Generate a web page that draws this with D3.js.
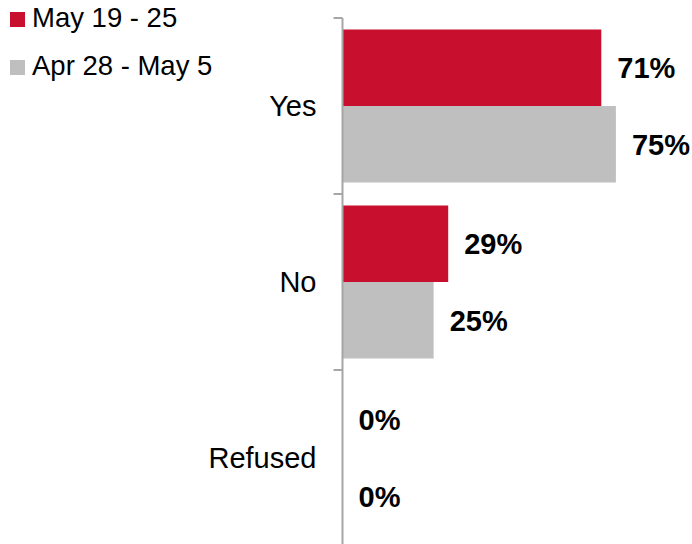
<!DOCTYPE html>
<html><head><meta charset="utf-8">
<script src="https://cdn.jsdelivr.net/npm/d3@7"></script>
<style>body{margin:0;background:#fff}svg{display:block}</style>
</head><body>
<script>
const categories = ["Yes", "No", "Refused"];
const seriesNames = ["May 19 - 25", "Apr 28 - May 5"];
const seriesMay19 = [71, 29, 0];
const seriesApr28 = [75, 25, 0];
const colors = ["#C8102E", "#BFBFBF"];

const W = 692, H = 544;
const svg = d3.select("body").append("svg").attr("width", W).attr("height", H)
  .style("font-family", "'Liberation Sans', Arial, sans-serif");

const x0 = 342.5;
const x = d3.scaleLinear().domain([0, 100]).range([x0, x0 + 364.5]);
const y = d3.scaleBand().domain(categories).range([18, 546]).paddingInner(0).paddingOuter(0);
const inner = d3.scaleBand().domain([0, 1]).range([11.5, y.bandwidth() - 11.5]);

const series = [seriesMay19, seriesApr28];
categories.forEach((c, i) => {
  series.forEach((s, j) => {
    const yy = y(c) + inner(j);
    svg.append("rect").attr("x", x(0)).attr("y", yy)
      .attr("width", x(s[i]) - x(0)).attr("height", inner.bandwidth())
      .attr("fill", colors[j]);
    svg.append("text").attr("x", x(s[i]) + 16).attr("y", yy + inner.bandwidth() / 2)
      .attr("dy", "0.36em").attr("font-size", 29).attr("font-weight", "bold")
      .attr("fill", "#000").text(s[i] + "%");
  });
});

// axis
const g = svg.append("g").attr("transform", `translate(${x0},0)`);
g.append("line").attr("x1", 0).attr("x2", 0).attr("y1", 18).attr("y2", H)
  .attr("stroke", "#A6A6A6").attr("stroke-width", 2);
[18].concat(categories.map(c => y(c) + y.bandwidth())).forEach(t => {
  g.append("line").attr("x1", -9).attr("x2", 0).attr("y1", t).attr("y2", t)
    .attr("stroke", "#A6A6A6").attr("stroke-width", 2);
});
categories.forEach(c => {
  svg.append("text").attr("x", 316.5).attr("y", y(c) + y.bandwidth() / 2)
    .attr("dy", "0.36em").attr("text-anchor", "end").attr("font-size", 29)
    .attr("fill", "#000").text(c);
});

// legend
seriesNames.forEach((n, j) => {
  const base = 27 + j * 48;
  svg.append("rect").attr("x", 10).attr("y", base - 15).attr("width", 15).attr("height", 15)
    .attr("fill", colors[j]);
  svg.append("text").attr("x", 32).attr("y", base)
    .attr("font-size", 27.5).attr("fill", "#000").text(n);
});
</script>
</body></html>
